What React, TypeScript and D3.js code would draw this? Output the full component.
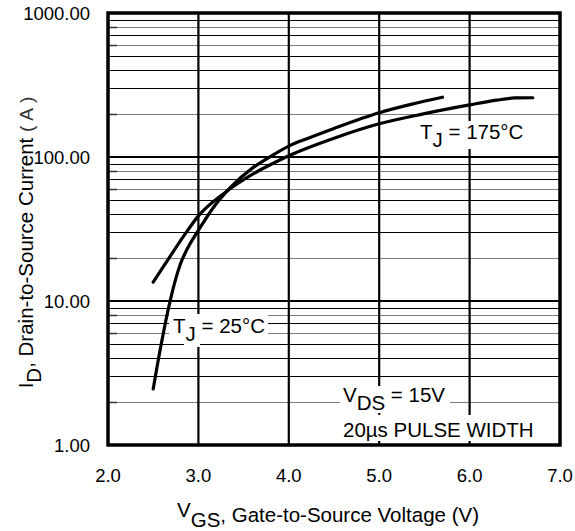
import React from 'react';
import * as d3 from 'd3';

// --------------------------------------------------------
// data
// --------------------------------------------------------
const vgs25 = [2.5, 2.58, 2.69, 2.8, 2.9, 3.0, 3.17, 3.35, 3.6, 3.8, 4.0, 4.2, 4.5, 5.0, 5.35, 5.7];
const id25 = [2.45, 4.7, 10.2, 18, 24.5, 31, 45, 61, 84, 101, 119, 134, 158, 203, 232, 260];

const vgs175 = [2.5, 2.7, 2.85, 3.0, 3.3, 3.6, 3.85, 4.0, 4.5, 5.0, 5.5, 6.0, 6.3, 6.5, 6.7];
const id175 = [13.5, 21, 29, 39, 57, 76, 92, 102, 135, 170, 200, 230, 248, 257, 258];

const xTicks = [2, 3, 4, 5, 6, 7];
const yDecades = [1, 10, 100, 1000];
const yTickLabels = ['1.00', '10.00', '100.00', '1000.00'];
// minor grid lines in each decade, gray or black as in the original print
const minorSteps = [2, 3, 4, 5, 6, 7, 8, 9];
const minorGray = [true, false, false, false, true, false, true, false];

const W = 575;
const H = 531;
const left = 108, right = 560, top = 13, bottom = 445;
const FONT = 'Arial, "Liberation Sans", Helvetica, sans-serif';

export default function App() {
  const x = d3.scaleLinear().domain([2, 7]).range([left, right]);
  const y = d3.scaleLog().domain([1, 1000]).range([bottom, top]);

  const line = d3.line<[number, number]>()
    .x(d => x(d[0]))
    .y(d => y(d[1]))
    .curve(d3.curveMonotoneX);

  const pts25 = vgs25.map((v, i) => [v, id25[i]] as [number, number]);
  const pts175 = vgs175.map((v, i) => [v, id175[i]] as [number, number]);

  const minors: { v: number; gray: boolean }[] = [];
  yDecades.slice(0, 3).forEach(dec => {
    minorSteps.forEach((s, i) => minors.push({ v: dec * s, gray: minorGray[i] }));
  });

  return (
    <svg width={W} height={H} style={{ position: 'absolute', left: 0, top: 0, background: '#fff' }}
      fontFamily={FONT}>
      <rect x={0} y={0} width={W} height={H} fill="#fff" />

      {/* minor horizontal grid */}
      {minors.map((m, i) => (
        <g key={'m' + i}>
          <line x1={left} x2={right} y1={Math.round(y(m.v)) + 0.5} y2={Math.round(y(m.v)) + 0.5}
            stroke={m.gray ? '#7a7a7a' : '#000'} strokeWidth={1.2} />
          {m.gray && <line x1={left} x2={left + 9} y1={Math.round(y(m.v)) + 0.5} y2={Math.round(y(m.v)) + 0.5}
            stroke="#333" strokeWidth={1.5} />}
        </g>
      ))}

      {/* decade lines */}
      {yDecades.slice(1, 3).map(d => (
        <line key={'d' + d} x1={left} x2={right} y1={y(d)} y2={y(d)} stroke="#000" strokeWidth={2.2} />
      ))}

      {/* vertical grid */}
      {xTicks.slice(1, 5).map(t => (
        <line key={'v' + t} x1={x(t)} x2={x(t)} y1={top} y2={bottom} stroke="#000" strokeWidth={2.2} />
      ))}

      {/* white boxes behind annotations */}
      <rect x={417} y={121} width={113} height={28} fill="#fff" />
      <rect x={169} y={314} width={99} height={24} fill="#fff" />
      <rect x={184} y={314} width={16} height={33} fill="#fff" />
      <rect x={340} y={386} width={110} height={27} fill="#fff" />
      <rect x={340} y={415} width={200} height={26} fill="#fff" />

      {/* curves */}
      <path d={line(pts25) ?? ''} fill="none" stroke="#000" strokeWidth={3.2} strokeLinecap="round" />
      <path d={line(pts175) ?? ''} fill="none" stroke="#000" strokeWidth={3.2} strokeLinecap="round" />

      {/* frame */}
      <rect x={left} y={top} width={right - left} height={bottom - top} fill="none" stroke="#000" strokeWidth={3.5} />

      {/* annotations */}
      <text x={420} y={139} fontSize={20.5}>T<tspan dy={8}>J</tspan><tspan dy={-8}> = 175°C</tspan></text>
      <text x={173} y={333} fontSize={20.5}>T<tspan dy={8}>J</tspan><tspan dy={-8}> = 25°C</tspan></text>
      <text x={343} y={402} fontSize={20.5}>V<tspan dy={8}>DS</tspan><tspan dy={-8}> = 15V</tspan></text>
      <text x={343} y={437} fontSize={20.5}>20µs PULSE WIDTH</text>

      {/* y tick labels */}
      {yDecades.map((d, i) => (
        <text key={'yl' + d} x={90} y={y(d) + 7} fontSize={18.5} textAnchor="end">{yTickLabels[i]}</text>
      ))}

      {/* x tick labels */}
      {xTicks.map(t => (
        <text key={'xl' + t} x={x(t)} y={482} fontSize={18.5} textAnchor="middle">{t.toFixed(1)}</text>
      ))}

      {/* axis titles */}
      <text x={177} y={517} fontSize={20.5}>
        V<tspan dy={10}>GS</tspan><tspan dy={-5}>, Gate-to-Source Voltage (V)</tspan>
      </text>
      <text transform={`translate(33, 240) rotate(-90)`} fontSize={20.5} textAnchor="middle">
        I<tspan dy={8}>D</tspan><tspan dy={-8}>, Drain-to-Source Current  </tspan>
        <tspan fontSize={19} letterSpacing={5} fill="#333">(A)</tspan>
      </text>
    </svg>
  );
}
